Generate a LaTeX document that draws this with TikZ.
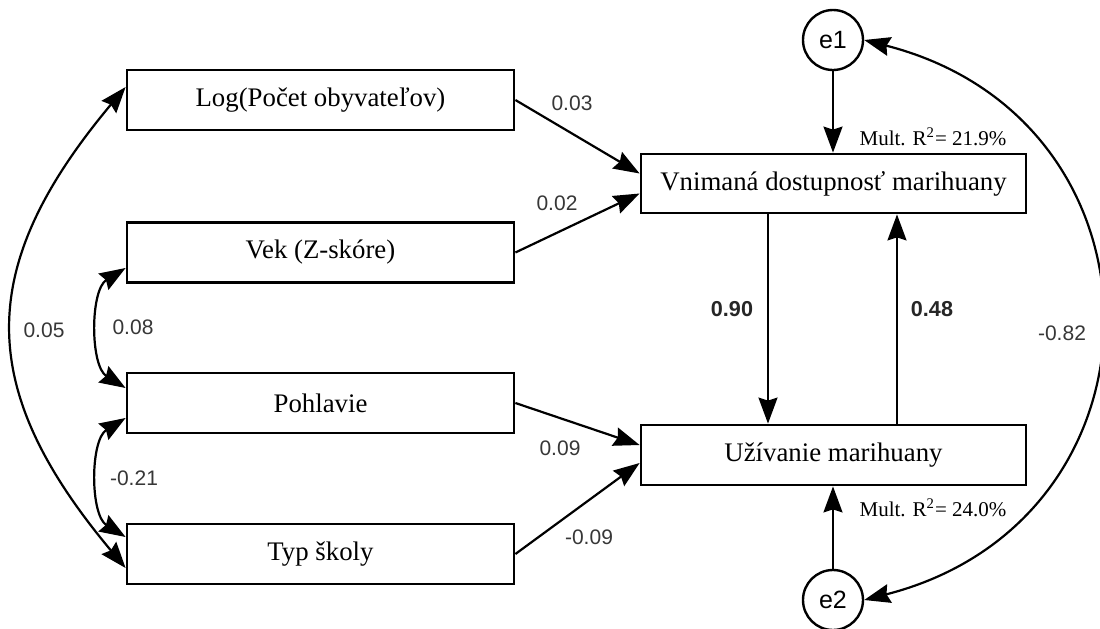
\documentclass[tikz,border=0pt]{standalone}
\usepackage{fontspec}
\setmainfont{Liberation Serif}
\newfontfamily\arialf{Liberation Sans}
\usetikzlibrary{arrows.meta,calc}
\definecolor{lbl}{RGB}{55,55,55}
\begin{document}
\begin{tikzpicture}[x=0.5pt,y=-0.5pt,
  var/.style={draw, line width=1.4pt, minimum width=193.5pt, minimum height=30pt, inner sep=0pt, font=\fontsize{13.4}{16}\selectfont},
  err/.style={draw, circle, line width=1.2pt, minimum size=30pt, inner sep=0pt, font=\arialf\fontsize{12.5}{14}\selectfont},
  tip/.tip={Stealth[length=13pt,width=9.5pt,inset=1.5pt]},
  arr/.style={line width=1.1pt, -tip},
  darr/.style={line width=1.1pt, tip-tip},
  coef/.style={font=\arialf\fontsize{10.5}{12}\selectfont, text=lbl, inner sep=0pt},
  bcoef/.style={font=\arialf\bfseries\fontsize{10.8}{12}\selectfont, text=black!85, inner sep=0pt},
  rsq/.style={font=\fontsize{10.5}{12}\selectfont, inner sep=0pt}]
\useasboundingbox (0,0) rectangle (1100,628);
\fill[white] (0,0) rectangle (1100,628);

% variables
\node[var] (log) at (320.5,100) {Log(Počet obyvateľov)};
\node[var] (vek) at (320.5,252.5) {Vek (Z-skóre)};
\node[var] (poh) at (320.5,403) {Pohlavie};
\node[var] (typ) at (320.5,554) {Typ školy};
\node[var, minimum width=192.5pt, minimum height=29.5pt] (vn) at (833.5,183.5) {Vnimaná dostupnosť marihuany};
\node[var, minimum width=192.5pt] (uz) at (833.5,455) {Užívanie marihuany};
\node[err] (e1) at (833,40) {e1};
\node[err] (e2) at (833,600) {e2};

% R squared
\node[rsq] (r1) at (933,137) {Mult. R\textsuperscript{2}= 21.9\%};
\node[rsq] (r2) at (933,508) {Mult. R\textsuperscript{2}= 24.0\%};

% paths
\draw[arr] (log.east) -- ($(vn.west)+(0,-10)$);
\draw[arr] (vek.east) -- ($(vn.west)+(0,10)$);
\draw[arr] (poh.east) -- ($(uz.west)+(0,-10)$);
\draw[arr] (typ.east) -- ($(uz.west)+(0,8)$);
\draw[arr] (e1.south) -- (vn.north -| e1.south);
\draw[arr] (e2.north) -- (uz.south -| e2.north);
\draw[arr] ($(vn.south)+(-65.5,0)$) -- ($(uz.north)+(-65.5,0)$);
\draw[arr] ($(uz.north)+(63.5,0)$) -- ($(vn.south)+(63.5,0)$);

% covariances
\draw[darr] ($(log.west)+(0,-13)$) .. controls (-25,267) and (-25,388) .. ($(typ.west)+(0,14)$);
\draw[darr] ($(vek.west)+(0,15.5)$) .. controls (90,290) and (90,366) .. ($(poh.west)+(0,-15)$);
\draw[darr] ($(poh.west)+(0,15)$) .. controls (90,440) and (90,515) .. ($(typ.west)+(0,-17)$);
\draw[darr] (e1.east) .. controls (1177,120) and (1177,520) .. (e2.east);

% labels
\node[coef] (c1) at (572,103) {0.03};
\node[coef] (c2) at (557,203) {0.02};
\node[coef] (c3) at (560,448) {0.09};
\node[coef] (c4) at (589,537) {-0.09};
\node[coef] (c5) at (44,330) {0.05};
\node[coef] (c6) at (133,327) {0.08};
\node[coef] (c7) at (134,478) {-0.21};
\node[coef] (c8) at (1062,333) {-0.82};
\node[bcoef] (c9) at (732,309) {0.90};
\node[bcoef] (c10) at (932,309) {0.48};
\end{tikzpicture}
\end{document}
